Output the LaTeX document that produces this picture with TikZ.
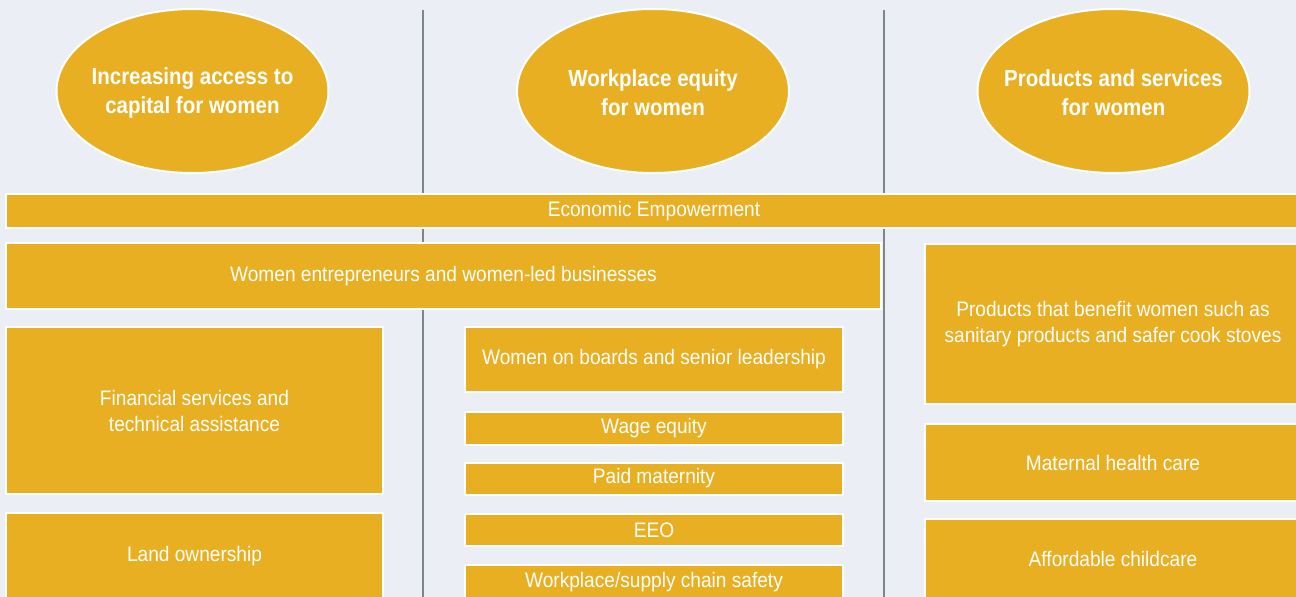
\documentclass[tikz,border=0pt]{standalone}
\usepackage{fontspec}
\setmainfont{Liberation Sans}[FakeStretch=0.91]
\newfontfamily\goalfont{Liberation Sans}[FakeStretch=0.88]
\usetikzlibrary{shapes.geometric}
\definecolor{bg}{HTML}{EBEEF5}
\definecolor{gold}{HTML}{E8AF22}
\definecolor{rule}{HTML}{7E858D}
\tikzset{
  box/.style={rectangle, fill=gold, draw=white, line width=2pt, inner sep=0pt,
    text=white, align=center, font=\fontsize{21}{26}\selectfont},
  goal/.style={ellipse, fill=gold, draw=white, line width=2pt, inner sep=0pt,
    minimum width=272pt, minimum height=164pt},
  goaltext/.style={text=white, align=center, inner sep=0pt, yshift=-1.5pt,
    font=\goalfont\fontsize{23.3}{29}\selectfont\bfseries},
  divider/.style={draw=rule, line width=2.5pt}
}
\begin{document}
\begin{tikzpicture}[x=1pt,y=-1pt]
\useasboundingbox (0,0) rectangle (1296,597);
\fill[bg] (0,0) rectangle (1296,597);
% dividers
\coordinate (d1t) at (423,10); \coordinate (d1b) at (423,597);
\coordinate (d2t) at (884,10); \coordinate (d2b) at (884,597);
\draw[divider] (d1t) -- (d1b);
\draw[divider] (d2t) -- (d2b);
% goals
\node[goal, label={[goaltext]center:Increasing access to\\capital for women}] (g1) at (192.5,91) {};
\node[goal, label={[goaltext]center:Workplace equity\\for women}] (g2) at (653,91) {};
\node[goal, label={[goaltext]center:Products and services\\for women}] (g3) at (1113.5,91) {};
% bars
\node[box, minimum width=1296pt, minimum height=34pt] (ee) at (654,211) {Economic Empowerment};
\node[box, minimum width=875pt, minimum height=66pt] (we) at (443.5,276) {Women entrepreneurs and women-led businesses};
% left column
\node[box, minimum width=377pt, minimum height=167pt] (fs) at (194.5,410.5) {Financial services and\\technical assistance};
\node[box, minimum width=377pt, minimum height=86pt] (lo) at (194.5,556) {Land ownership};
% middle column
\node[box, minimum width=378pt, minimum height=65pt] (wb) at (654,359.5) {Women on boards and senior leadership};
\node[box, minimum width=378pt, minimum height=33pt] (wq) at (654,428) {Wage equity};
\node[box, minimum width=378pt, minimum height=32pt] (pm) at (654,478.5) {Paid maternity};
\node[box, minimum width=378pt, minimum height=32pt] (eeo) at (654,530) {EEO};
\node[box, minimum width=378pt, minimum height=34pt] (ws) at (654,582) {Workplace/supply chain safety};
% right column
\node[box, minimum width=376pt, minimum height=160pt] (pr) at (1113,324) {Products that benefit women such as\\sanitary products and safer cook stoves};
\node[box, minimum width=376pt, minimum height=77pt] (mh) at (1113,462.5) {Maternal health care};
\node[box, minimum width=376pt, minimum height=80pt] (ac) at (1113,559) {Affordable childcare};
\end{tikzpicture}
\end{document}
